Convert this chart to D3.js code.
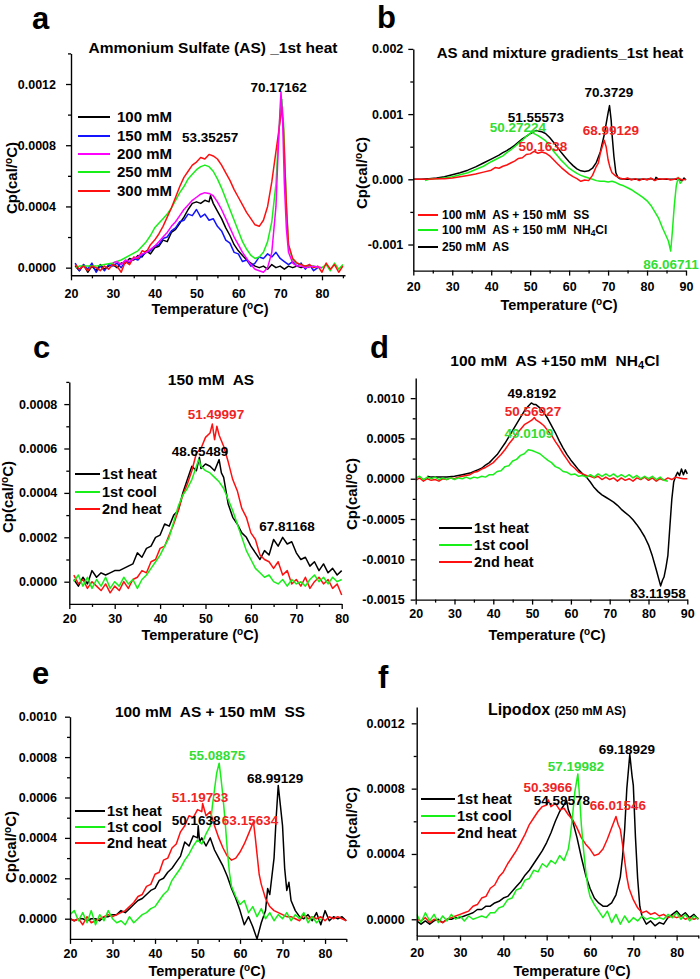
<!DOCTYPE html>
<html><head><meta charset="utf-8">
<script src="https://cdn.jsdelivr.net/npm/d3@7"></script>
<style>
body{margin:0;background:#fff}
svg{display:block}
text{font-family:"Liberation Sans",Arial,Helvetica,sans-serif;font-weight:bold;white-space:pre}
</style>
</head><body>
<svg id="chart" width="700" height="979"></svg>
<script>
// Cp values are given in units of 1e-4 cal/°C
const UNIT = 1e-4;

// ---------- Panel a : Ammonium Sulfate (AS) _1st heat ----------
const a_100mM = [[21,0.1],[22,-0.2],[23,0.2],[24,-0.3],[25,0.1],[26,-0.2],[27,0.2],[28,-0.1],[29,0.1],[30,0.2],[31,0.0],[32,0.3],[33,0.3],[34,0.6],[35,0.5],[36,0.8],[37,0.7],[38,1.1],[39,0.9],[40,1.3],[41,1.4],[42,1.8],[43,1.7],[44,2.3],[45,2.5],[46,2.9],[47,3.3],[48,3.8],[49,4.2],[50,4.3],[51,4.2],[52,4.4],[53,4.3],[53.35,4.7],[54,4.2],[55,3.7],[56,3.2],[57,2.6],[58,2.1],[59,1.5],[60,1.1],[61,0.8],[62,0.5],[63,0.3],[64,0.1],[65,0.0],[66,0.1],[67,-0.1],[68,0.2],[69,0.0],[70,0.1],[71,-0.1],[72,0.1],[73,0.0],[74,0.1],[75,0.0],[76,0.1],[77,0.0]];
const a_150mM = [[21,0.3],[22,-0.2],[23,0.2],[24,-0.1],[25,0.3],[26,-0.3],[27,0.1],[28,-0.2],[29,0.2],[30,0.1],[31,0.3],[32,0.0],[33,0.4],[34,0.3],[35,0.6],[36,0.5],[37,0.8],[38,1.0],[39,1.1],[40,1.4],[41,1.5],[42,1.9],[43,2.0],[44,2.4],[45,2.6],[46,3.0],[47,3.1],[48,3.5],[49,3.4],[50,3.8],[51,3.3],[52,3.5],[53,3.1],[54,3.2],[55,2.7],[56,2.4],[57,1.8],[58,1.6],[59,1.0],[60,0.9],[61,0.4],[62,0.5],[63,0.1],[64,0.3],[65,0.7],[66,0.6],[67,0.9],[68,0.7],[69,1.0],[70,0.6],[71,0.4],[72,0.2],[73,0.4],[74,0.1],[75,0.3],[76,-0.1],[77,0.2],[78,-0.2],[79,0.0]];
const a_200mM = [[30,0.3],[31,0.4],[32,0.2],[33,0.5],[34,0.4],[35,0.6],[36,0.7],[37,0.9],[38,1.0],[39,1.2],[40,1.4],[41,1.7],[42,2.0],[43,2.3],[44,2.7],[45,3.0],[46,3.4],[47,3.8],[48,4.1],[49,4.4],[50,4.6],[51,4.8],[52,4.9],[53,4.85],[54,4.7],[55,4.3],[56,3.8],[57,3.2],[58,2.6],[59,2.0],[60,1.5],[61,1.0],[62,0.6],[63,0.2],[64,-0.1],[65,-0.2],[66,-0.3],[67,0.0],[68,1.0],[69,4.0],[69.5,7.5],[70,10.5],[70.2,11.5],[70.6,9.5],[71,5.5],[71.5,2.5],[72,1.0],[73,0.3],[74,0.1],[75,0.1],[76,0.0],[78,0.1],[80,0.0]];
const a_250mM = [[21,0.0],[22,0.1],[24,0.1],[26,0.1],[28,0.2],[30,0.3],[32,0.5],[34,0.8],[36,1.1],[37,1.4],[38,1.7],[39,2.1],[40,2.6],[41,2.9],[42,3.2],[43,3.5],[44,3.9],[45,4.4],[46,4.9],[47,5.3],[48,5.8],[49,6.1],[50,6.4],[51,6.6],[52,6.7],[53,6.6],[54,6.3],[55,5.8],[56,5.2],[57,4.5],[58,3.8],[59,3.1],[60,2.4],[61,1.7],[62,1.2],[63,0.8],[64,0.6],[65,0.7],[66,1.0],[67,1.7],[68,3.0],[69,5.5],[69.5,8.0],[70,10.2],[70.4,11.0],[70.8,9.5],[71,8.0],[71.5,4.0],[72,1.5],[73,0.5],[74,0.3],[75,0.2],[76,0.1],[78,0.1],[80,0.0],[81,0.2],[82,-0.2],[83,0.3],[84,-0.1],[85,0.2]];
const a_300mM = [[21,0.2],[22,-0.1],[23,0.1],[24,-0.2],[25,0.1],[26,0.0],[27,-0.2],[28,0.1],[29,-0.1],[30,0.2],[31,0.1],[32,-0.3],[33,0.4],[34,0.2],[35,0.7],[36,0.6],[37,1.1],[38,1.0],[39,1.5],[40,1.8],[41,2.2],[42,2.7],[43,3.3],[44,3.9],[45,4.6],[46,5.3],[47,5.9],[48,6.3],[49,6.7],[50,6.9],[51,7.2],[52,7.1],[53,7.4],[54,7.3],[55,7.1],[56,6.7],[57,6.2],[58,5.7],[59,5.1],[60,4.6],[61,4.1],[62,3.6],[63,3.2],[64,2.8],[65,2.7],[66,3.1],[67,4.0],[68,5.6],[69,7.6],[69.5,8.6],[70,9.6],[70.4,10.5],[70.8,9.0],[71,7.5],[71.5,4.0],[72,1.5],[73,0.6],[74,0.3],[75,0.2],[76,0.1],[77,0.2],[78,0.0],[79,0.1],[80,-0.3],[81,0.3],[82,-0.1],[83,0.2],[84,-0.3],[85,0.1]];

// ---------- Panel b : AS and mixture gradients_1st heat ----------
const b_AS_SS = [[20,0.0],[22,0.0],[24,0.0],[26,0.1],[28,0.1],[30,0.2],[32,0.4],[34,0.6],[36,0.8],[38,1.1],[40,1.4],[41,1.8],[42,1.7],[43,2.0],[44,2.2],[45,2.5],[46,2.8],[47,3.2],[48,3.3],[49,3.8],[50,3.9],[51,4.3],[52,4.0],[53,4.2],[54,4.0],[55,3.6],[56,3.0],[57,2.4],[58,1.8],[59,1.3],[60,0.8],[61,0.4],[62,0.1],[63,-0.3],[64,-0.1],[65,-0.2],[66,0.6],[67,2.0],[67.5,2.5],[68,4.0],[68.99,6.0],[69.5,5.0],[70,3.0],[70.5,1.8],[71,1.0],[72,0.5],[73,0.2],[74,0.0],[75,0.2],[76,-0.1],[77,0.1],[78,-0.2],[79,0.1],[80,-0.1],[81,0.2],[82,-0.2],[83,0.1],[84,0.0],[85,0.1],[86,-0.1],[87,0.0],[88,0.2],[89,-0.1],[90,0.0]];
const b_AS_NH4Cl = [[23,-0.2],[24,0.0],[25,0.1],[26,0.1],[28,0.2],[30,0.4],[32,0.7],[34,1.0],[36,1.5],[38,2.0],[40,2.7],[41,3.0],[42,3.3],[43,3.6],[44,4.1],[45,4.5],[46,5.0],[47,5.5],[48,6.0],[49,6.6],[50,7.0],[50.27,7.4],[51,7.0],[52,6.7],[53,6.3],[54,5.9],[55,5.1],[56,4.3],[57,3.6],[58,2.9],[59,2.3],[60,1.7],[61,1.3],[62,0.9],[63,0.6],[64,0.4],[65,0.2],[66,0.0],[67,-0.2],[68,-0.3],[69,-0.3],[70,-0.4],[71,-0.3],[72,-0.5],[73,-0.8],[74,-1.0],[75,-1.3],[76,-1.6],[77,-2.0],[78,-2.4],[79,-2.8],[80,-3.3],[81,-4.0],[82,-5.0],[83,-6.0],[84,-7.5],[85,-8.8],[85.5,-9.5],[86.07,-11.0],[86.5,-8.0],[87,-4.0],[87.5,-1.0],[88,0.3],[88.5,-0.6],[89,-0.3]];
const b_AS250 = [[20,0.0],[22,0.0],[24,0.1],[26,0.2],[28,0.4],[30,0.7],[32,1.0],[34,1.4],[36,1.9],[38,2.5],[40,3.1],[41,3.4],[42,3.7],[43,4.1],[44,4.4],[45,4.8],[46,5.2],[47,5.7],[48,6.2],[49,6.6],[50,7.0],[51,7.3],[51.56,7.5],[52,7.4],[53,7.3],[54,7.0],[55,6.4],[56,5.7],[57,4.9],[58,4.1],[59,3.4],[60,2.7],[61,2.1],[62,1.6],[63,1.3],[64,1.2],[65,1.3],[66,1.7],[67,2.6],[68,4.2],[69,6.8],[69.5,8.5],[70,10.2],[70.37,11.3],[70.8,9.0],[71,7.0],[71.5,3.5],[72,1.0],[72.5,0.3],[73,0.1],[75,0.0],[78,0.0],[80,0.0],[81,0.1],[82,-0.1],[82.3,0.3],[83,0.0],[85,0.0],[88,0.0],[89,-0.2],[89.5,0.2],[90,-0.1]];

// ---------- Panel c : 150 mM AS ----------
const c_heat1 = [[21,0.1],[22,-0.2],[23,0.2],[24,-0.1],[25,0.5],[26,0.2],[27,0.4],[28,0.3],[29,0.4],[30,0.5],[31,0.5],[32,0.6],[33,0.7],[34,0.8],[35,1.3],[36,1.1],[37,1.5],[38,1.6],[39,2.0],[40,2.1],[41,2.6],[42,2.5],[43,3.0],[44,3.2],[45,4.0],[46,4.6],[47,5.2],[48,5.0],[48.65,5.6],[49,5.1],[50,5.3],[51,5.2],[52,5.0],[53,5.5],[53.5,4.9],[54,4.7],[55,3.5],[56,2.9],[57,2.6],[58,2.2],[59,2.0],[60,1.6],[61,1.3],[62,1.0],[63,1.4],[64,1.2],[65,1.9],[66,1.6],[67,2.0],[68,1.7],[69,1.8],[70,1.3],[71,1.0],[72,1.1],[73,0.7],[74,0.9],[75,0.5],[76,0.8],[77,0.4],[78,0.6],[79,0.3],[80,0.5]];
const c_cool1 = [[21,0.0],[22,0.3],[23,-0.2],[24,0.2],[25,-0.3],[26,0.1],[27,-0.2],[28,0.2],[29,-0.3],[30,0.0],[31,-0.2],[32,0.2],[33,-0.1],[34,0.1],[35,-0.3],[36,0.1],[37,0.3],[38,0.6],[39,0.9],[40,1.2],[41,1.6],[42,2.0],[43,2.7],[44,3.4],[45,3.9],[46,4.2],[47,4.6],[48,5.2],[48.5,5.5],[49,5.2],[50,5.0],[51,4.9],[52,4.7],[53,4.5],[54,4.2],[55,3.7],[56,3.2],[57,2.6],[58,2.0],[59,1.4],[60,1.0],[61,0.6],[62,0.4],[63,0.2],[64,0.3],[65,0.0],[66,-0.1],[67,0.1],[68,-0.2],[69,0.1],[70,-0.1],[71,0.0],[72,-0.2],[73,0.1],[74,0.3],[75,0.0],[76,0.2],[77,-0.1],[78,0.2],[79,0.0],[80,0.1]];
const c_heat2 = [[21,0.3],[22,-0.1],[23,0.1],[24,-0.3],[25,0.0],[26,-0.2],[27,-0.4],[28,-0.1],[29,-0.5],[30,-0.2],[31,-0.4],[32,0.0],[33,-0.3],[34,0.1],[35,0.2],[36,0.5],[37,0.4],[38,0.9],[39,1.0],[40,1.5],[41,1.6],[42,2.1],[43,2.6],[44,3.2],[45,3.9],[46,4.4],[47,5.0],[48,5.8],[49,6.0],[50,6.5],[51,6.7],[51.5,7.1],[52,6.4],[52.5,7.0],[53,6.6],[54,6.1],[55,5.4],[56,4.6],[57,4.1],[58,3.3],[59,2.9],[60,2.2],[61,1.9],[62,1.2],[63,1.0],[64,0.9],[65,0.6],[66,0.9],[67,0.3],[68,0.5],[69,-0.1],[70,0.1],[71,-0.2],[72,0.2],[73,-0.3],[74,0.0],[75,0.2],[76,-0.1],[77,0.1],[78,-0.3],[79,-0.1],[80,-0.6]];

// ---------- Panel d : 100 mM AS + 150 mM NH4Cl ----------
const d_heat1 = [[23,0.3],[24,0.2],[25,0.2],[26,0.2],[28,0.2],[30,0.3],[32,0.5],[34,0.7],[35,0.9],[36,1.1],[37,1.3],[38,1.7],[39,2.0],[40,2.5],[41,3.0],[42,3.7],[43,4.4],[44,5.2],[45,6.0],[46,6.8],[47,7.6],[48,8.4],[49,9.0],[49.8,9.4],[50.5,9.2],[51,9.2],[52,8.8],[53,8.2],[54,7.5],[55,6.6],[56,5.7],[57,4.7],[58,3.8],[59,3.0],[60,2.3],[61,1.7],[62,1.1],[63,0.6],[64,0.2],[65,-0.4],[66,-1.1],[67,-1.6],[68,-2.0],[69,-2.3],[70,-2.6],[71,-2.9],[72,-3.3],[73,-3.8],[74,-4.2],[75,-4.6],[76,-5.1],[77,-5.7],[78,-6.4],[79,-7.2],[80,-8.2],[81,-9.6],[82,-11.3],[83.12,-13.3],[83.6,-12.6],[84,-12.2],[84.5,-11.0],[85,-9.5],[85.5,-6.0],[86,-2.6],[86.5,-0.4],[87,0.3],[87.5,0.8],[88,0.4],[88.5,1.2],[89,0.5],[89.5,1.1],[90,0.6]];
const d_cool1 = [[20,0.1],[21,0.3],[22,-0.1],[23,0.2],[24,0.0],[25,0.2],[26,-0.1],[27,0.1],[28,-0.1],[29,0.1],[30,-0.1],[31,0.1],[32,0.0],[33,0.2],[34,0.0],[35,0.2],[36,0.1],[37,0.3],[38,0.2],[39,0.5],[40,0.5],[41,0.9],[42,1.0],[43,1.5],[44,1.6],[45,2.2],[46,2.4],[47,2.9],[48,3.1],[49,3.6],[50,3.5],[51,3.3],[52,3.1],[53,2.7],[54,2.3],[55,2.0],[56,1.5],[57,1.3],[58,0.9],[59,0.8],[60,0.5],[61,0.6],[62,0.3],[63,0.4],[64,0.2],[65,0.5],[66,0.2],[67,0.6],[68,0.3],[69,0.6],[70,0.3],[71,0.6],[72,0.2],[73,0.5],[74,0.2],[75,0.5],[76,0.1],[77,0.4],[78,0.0],[79,0.3],[80,0.0],[81,0.3],[82,-0.1],[83,0.2],[84,-0.2],[85,-0.3]];
const d_heat2 = [[20,-0.2],[21,0.1],[22,-0.3],[23,0.0],[24,-0.2],[25,-0.1],[26,-0.3],[27,0.0],[28,-0.1],[29,0.1],[30,0.0],[31,0.2],[32,0.3],[33,0.4],[34,0.5],[35,0.8],[36,0.9],[37,1.2],[38,1.4],[39,1.7],[40,2.0],[41,2.5],[42,3.0],[43,3.6],[44,4.3],[45,4.9],[46,5.6],[47,6.1],[48,6.7],[49,7.0],[50,7.3],[50.57,7.6],[51,7.3],[52,7.0],[53,6.6],[54,6.0],[55,5.4],[56,4.6],[57,3.9],[58,3.1],[59,2.4],[60,1.7],[61,1.3],[62,0.8],[63,0.6],[64,0.4],[65,0.3],[66,0.1],[67,0.3],[68,-0.1],[69,0.2],[70,-0.1],[71,0.1],[72,-0.3],[73,0.1],[74,-0.2],[75,0.0],[76,-0.3],[77,0.1],[78,-0.1],[79,0.2],[80,-0.2],[81,0.1],[82,-0.3],[83,0.0],[84,-0.2],[85,0.1],[86,-0.1],[87,0.2],[88,0.1],[89,0.0],[90,0.0]];

// ---------- Panel e : 100 mM AS + 150 mM SS ----------
const e_heat1 = [[20,0.0],[21,-0.1],[22,0.0],[23,0.0],[24,-0.1],[25,0.0],[26,0.0],[27,-0.1],[28,0.1],[29,0.1],[30,0.2],[31,0.2],[32,0.4],[33,0.3],[34,0.5],[35,0.7],[36,0.9],[37,1.0],[38,1.2],[39,1.4],[40,1.5],[41,1.9],[42,2.0],[43,2.3],[44,2.5],[45,2.8],[46,3.1],[47,3.8],[48,3.6],[49,4.1],[50,4.0],[50.16,4.6],[50.5,3.8],[51,4.0],[52,3.6],[53,4.0],[53.5,3.7],[54,3.4],[55,3.0],[56,2.6],[57,2.1],[58,1.5],[59,1.0],[60,0.4],[61,-0.3],[62,0.1],[63,-0.4],[64,-1.0],[65,-0.2],[66,0.4],[66.5,1.5],[67,1.2],[68,3.0],[68.5,5.0],[68.99,6.6],[69.5,5.6],[70,4.6],[70.5,2.5],[71,1.4],[71.5,1.8],[72,0.9],[73,0.4],[74,0.1],[75,0.0],[76,0.2],[77,-0.1],[78,0.3],[79,-0.3],[80,0.4],[81,-0.1],[82,0.1],[83,0.0],[84,0.1],[85,-0.1]];
const e_cool1 = [[20,0.2],[21,0.4],[22,-0.1],[23,0.3],[24,-0.2],[25,0.4],[26,-0.3],[27,0.2],[28,-0.1],[29,0.4],[30,0.0],[31,-0.2],[32,-0.1],[33,-0.3],[34,0.1],[35,-0.2],[36,0.0],[37,0.2],[38,0.3],[39,0.5],[40,0.6],[41,0.9],[42,1.2],[43,1.4],[44,1.9],[45,2.2],[46,2.5],[47,2.9],[48,3.2],[49,3.6],[50,3.9],[51,3.7],[52,4.2],[53,4.6],[53.5,5.6],[54,6.4],[54.5,7.2],[55.09,7.7],[55.5,7.0],[56,6.0],[56.5,4.8],[57,3.4],[57.5,2.3],[58,1.6],[59,1.1],[60,0.7],[61,0.9],[62,0.3],[63,0.6],[64,0.1],[65,0.5],[66,0.0],[67,0.3],[68,-0.1],[69,0.2],[70,0.0],[71,0.3],[72,-0.1],[73,0.2],[74,0.0],[75,0.3],[76,-0.2],[77,0.1],[78,-0.2],[79,0.0]];
const e_heat2 = [[20,0.0],[21,-0.1],[22,0.0],[23,-0.3],[24,0.1],[25,-0.2],[26,-0.1],[27,0.0],[28,0.1],[29,0.2],[30,0.1],[31,0.2],[32,0.3],[33,0.4],[34,0.6],[35,0.8],[36,1.1],[37,1.2],[38,1.6],[39,1.7],[40,2.2],[41,2.3],[42,2.9],[43,3.0],[44,3.5],[45,3.7],[46,4.3],[47,4.6],[48,5.1],[49,5.0],[50,5.4],[51,5.3],[51.2,5.7],[52,5.1],[53,5.3],[54,4.6],[55,4.0],[56,3.5],[57,3.1],[58,2.9],[59,3.0],[60,3.3],[61,3.7],[62,4.2],[63.16,4.8],[63.6,4.0],[64,3.2],[64.5,2.2],[65,1.7],[66,1.0],[67,0.6],[68,0.4],[69,0.3],[70,0.2],[71,0.1],[72,0.1],[73,0.0],[74,-0.1],[75,0.2],[76,0.0],[77,0.1],[78,0.0],[79,0.1],[80,-0.1],[81,0.1],[82,0.0],[83,0.1],[84,0.0],[85,-0.1]];

// ---------- Panel f : Lipodox (250 mM AS) ----------
const f_heat1 = [[20,-0.1],[21,-0.3],[22,-0.1],[23,-0.3],[24,-0.1],[25,0.0],[26,-0.2],[27,0.0],[28,0.0],[29,0.1],[30,0.1],[31,0.2],[32,0.3],[33,0.4],[34,0.6],[35,0.6],[36,0.8],[37,0.8],[38,1.0],[39,1.1],[40,1.3],[41,1.4],[42,1.7],[43,2.0],[44,2.3],[45,2.7],[46,3.0],[47,3.4],[48,3.8],[49,4.2],[50,4.7],[51,5.3],[52,6.0],[53,6.6],[54,7.0],[54.59,7.3],[55,6.7],[56,6.0],[57,5.0],[58,3.8],[59,2.7],[60,1.9],[61,1.3],[62,1.0],[63,0.8],[64,0.8],[65,1.0],[66,1.5],[67,2.6],[67.5,3.8],[68,5.5],[68.5,8.0],[69.19,10.1],[69.7,8.8],[70,8.2],[70.5,5.0],[71,2.5],[71.5,0.8],[72,0.2],[73,-0.3],[74,-0.1],[75,-0.4],[76,-0.2],[77,-0.3],[78,0.1],[79,0.3],[80,0.5],[81,0.2],[82,0.4],[83,0.1],[84,0.3],[85,0.0]];
const f_cool1 = [[20,0.3],[21,-0.2],[22,0.4],[23,-0.1],[24,0.3],[25,-0.2],[26,0.2],[27,-0.1],[28,0.3],[29,0.0],[30,0.2],[31,-0.1],[32,0.2],[33,0.0],[34,0.1],[35,0.2],[36,0.1],[37,0.4],[38,0.4],[39,0.7],[40,0.8],[41,1.2],[42,1.3],[43,1.8],[44,1.9],[45,2.4],[46,2.5],[47,3.0],[48,2.9],[49,3.4],[50,3.2],[51,3.6],[52,3.4],[53,3.9],[54,3.6],[55,4.3],[55.5,5.2],[56,6.4],[56.5,7.8],[57.2,8.9],[57.6,7.5],[58,5.8],[58.5,4.3],[59,3.0],[59.5,2.0],[60,1.4],[61,0.9],[62,0.5],[63,0.1],[64,0.5],[65,-0.2],[66,0.3],[67,-0.3],[68,0.2],[69,-0.2],[70,0.1],[71,-0.1],[72,0.2],[73,0.0],[74,0.1],[75,0.0],[76,0.1],[77,0.0],[78,0.3],[79,0.1],[80,0.4],[81,0.0],[82,0.3],[83,-0.1],[84,0.2],[85,0.0]];
const f_heat2 = [[20,0.0],[21,-0.1],[22,0.1],[23,-0.2],[24,0.0],[25,-0.1],[26,-0.2],[27,0.0],[28,0.1],[29,0.2],[30,0.3],[31,0.4],[32,0.5],[33,0.8],[34,0.9],[35,1.3],[36,1.4],[37,1.9],[38,2.1],[39,2.6],[40,2.9],[41,3.4],[42,3.8],[43,4.2],[44,4.7],[45,5.2],[46,5.8],[47,6.2],[48,6.6],[49,6.9],[50,7.0],[50.4,7.3],[51,6.9],[52,7.1],[53,6.7],[54,6.8],[55,6.4],[56,6.1],[57,5.6],[58,5.0],[59,4.6],[60,4.3],[61,3.9],[62,4.0],[63,4.3],[64,4.9],[65,5.6],[66,6.3],[66.5,5.8],[67,5.5],[67.5,4.6],[68,3.6],[68.5,2.6],[69,1.9],[70,1.2],[71,0.7],[72,0.4],[73,0.5],[74,0.3],[75,0.4],[76,0.2],[77,0.3],[78,0.1],[79,0.2],[80,0.1],[81,0.2],[82,0.0],[83,0.1],[84,0.0],[85,0.1]];

// ---------- Tick values ----------
const xTicks_a = [20,30,40,50,60,70,80];
const xTicks_b = [20,30,40,50,60,70,80,90];
const xTicks_c = [20,30,40,50,60,70,80];
const xTicks_d = [20,30,40,50,60,70,80,90];
const xTicks_e = [20,30,40,50,60,70,80];
const xTicks_f = [20,30,40,50,60,70,80];
const yTicks_a = [0,0.0004,0.0008,0.0012];
const yTicks_b = [-0.001,0,0.001,0.002];
const yTicks_c = [0,0.0002,0.0004,0.0006,0.0008];
const yTicks_d = [-0.0015,-0.0010,-0.0005,0,0.0005,0.0010];
const yTicks_e = [0,0.0002,0.0004,0.0006,0.0008,0.0010];
const yTicks_f = [0,0.0004,0.0008,0.0012];

// ---------- Peak labels (text, temperature, Cp position in 1e-4) ----------
const ann_a = [["70.17162",69.64,11.8,"k"],["53.35257",53.25,8.5,"k"]];
const ann_b = [["70.3729",70.23,13.39,"k"],["51.55573",51.49,9.48,"k"],["50.27224",46.87,7.94,"g"],["68.99129",70.74,7.56,"r"],["50.1638",53.29,5.11,"r"],["86.06711",86.15,-12.99,"g"]];
const ann_c = [["51.49997",52.31,7.55,"r"],["48.65489",48.79,5.89,"k"],["67.81168",67.95,2.51,"k"]];
const ann_d = [["49.8192",49.97,10.63,"k"],["50.56927",50.23,8.40,"r"],["49.0109",49.20,5.67,"g"],["83.11958",82.45,-14.18,"k"]];
const ann_e = [["55.08875",54.59,8.10,"g"],["68.99129",68.24,6.97,"k"],["51.19733",50.59,6.02,"r"],["50.1638",49.65,4.89,"k"],["63.15634",62.35,4.89,"r"]];
const ann_f = [["69.18929",68.53,10.43,"k"],["57.19982",56.76,9.39,"g"],["50.3966",50.30,8.10,"r"],["54.58578",53.53,7.31,"k"],["66.01546",66.46,7.00,"r"]];

// ---------- Legend names ----------
const leg_a = ["100 mM","150 mM","200 mM","250 mM","300 mM"];
const leg_b = ["100 mM  AS + 150 mM  SS",["100 mM  AS + 150 mM  NH","4","Cl"],"250 mM  AS"];
const leg_run = ["1st heat","1st cool","2nd heat"];

// ---------- Styling ----------
const LC = {k:"#000000", b:"#1414ff", m:"#ff00ff", g:"#18ee18", r:"#ff1010"};
const TC = {k:"#000000", g:"#33dd33", r:"#f02424"};

const panels = [
 {letter:"a", L:[32,29], x0:71, x1:345, y0:275.3, y1:53.4, xd:[20,85.5], yd:[-0.00005,0.0014],
  xT:xTicks_a, xM:d3.range(25,86,10), yT:yTicks_a, yM:[0.0002,0.0006,0.0010,0.0014], yDec:4, ypad:10, xpad:14,
  title:[["Ammonium Sulfate (AS) _1st heat",15.5]], tX:213, tY:53,
  series:[[a_100mM,"k"],[a_150mM,"b"],[a_250mM,"g"],[a_300mM,"r"],[a_200mM,"m"]],
  legend:{x1:78,x2:110,tx:117,ys:[117,136,154,172,191],names:leg_a,cols:["k","b","m","g","r"],fs:15},
  ann:ann_a, ylab:[17,178], xlab:[210,314]},
 {letter:"b", L:[377,28], x0:413.3, x1:686, y0:270.6, y1:48.9, xd:[20,90], yd:[-0.0014,0.002],
  xT:xTicks_b, xM:d3.range(25,90,10), yT:yTicks_b, yM:[-0.0005,0.0005,0.0015], yDec:3, ypad:5, xpad:12,
  title:[["AS and mixture gradients_1st heat",15]], tX:560, tY:58,
  series:[[b_AS250,"k"],[b_AS_NH4Cl,"g"],[b_AS_SS,"r"]],
  legend:{x1:418,x2:438,tx:442,ys:[215,230,247],names:leg_b,cols:["r","g","k"],fs:12},
  ann:ann_b, ylab:[367,173], xlab:[559,310]},
 {letter:"c", L:[33,358], x0:69.3, x1:341.7, y0:603.9, y1:381.9, xd:[20,80], yd:[-0.0001,0.0009],
  xT:xTicks_c, xM:d3.range(25,80,10), yT:yTicks_c, yM:[0.0001,0.0003,0.0005,0.0007,0.0009], yDec:4, ypad:7, xpad:10,
  title:[["150 mM  AS",15.5]], tX:211, tY:385,
  series:[[c_heat1,"k"],[c_heat2,"r"],[c_cool1,"g"]],
  legend:{x1:75,x2:100,tx:102,ys:[474,492,509],names:leg_run,cols:["k","g","r"],fs:14.5},
  ann:ann_c, ylab:[13,497], xlab:[200,640]},
 {letter:"d", L:[370,358], x0:415.7, x1:687.3, y0:599.6, y1:378, xd:[20,90], yd:[-0.0015,0.00125],
  xT:xTicks_d, xM:d3.range(25,90,10), yT:yTicks_d, yM:[-0.00125,-0.00075,-0.00025,0.00025,0.00075], yDec:4, ypad:6, xpad:10,
  title:[["100 mM  AS +150 mM  NH",15.5],["4",11,"sub"],["Cl",15.5]], tX:555, tY:366,
  series:[[d_heat1,"k"],[d_heat2,"r"],[d_cool1,"g"]],
  legend:{x1:439,x2:472,tx:474,ys:[528,545,562],names:leg_run,cols:["k","g","r"],fs:14.5},
  ann:ann_d, ylab:[357,494], xlab:[547,640]},
 {letter:"e", L:[32,684], x0:70, x1:346.3, y0:938.9, y1:716.7, xd:[20,85], yd:[-0.0001,0.001],
  xT:xTicks_e, xM:d3.range(25,86,10), yT:yTicks_e, yM:[0.0001,0.0003,0.0005,0.0007,0.0009], yDec:4, ypad:8, xpad:10,
  title:[["100 mM  AS + 150 mM  SS",15.5]], tX:210, tY:717,
  series:[[e_heat1,"k"],[e_heat2,"r"],[e_cool1,"g"]],
  legend:{x1:75,x2:105,tx:107,ys:[811,827,843],names:leg_run,cols:["k","g","r"],fs:14.5},
  ann:ann_e, ylab:[16,847], xlab:[207,976]},
 {letter:"f", L:[378,688], x0:416.7, x1:698.3, y0:935.6, y1:707, xd:[20,85], yd:[-0.0001,0.0013],
  xT:xTicks_f, xM:d3.range(25,86,10), yT:yTicks_f, yM:[0.0002,0.0006,0.0010], yDec:4, ypad:7, xpad:13,
  title:[["Lipodox ",16],["(250 mM AS)",12]], tX:557, tY:715,
  series:[[f_heat1,"k"],[f_heat2,"r"],[f_cool1,"g"]],
  legend:{x1:421,x2:455,tx:457,ys:[799,816,833],names:leg_run,cols:["k","g","r"],fs:14.5},
  ann:ann_f, ylab:[357,823], xlab:[572,976]}
];

const svg = d3.select("#chart");
const defs = svg.append("defs");

function addTspans(t, parts){
  parts.forEach(p=>{
    const s = t.append("tspan").text(p[0]).attr("font-size",p[1]);
    if(p[2]==="sub") s.attr("baseline-shift","-25%");
    if(p[2]==="sup") s.attr("baseline-shift","super");
  });
}

panels.forEach((p,i)=>{
  const g = svg.append("g");
  const x = d3.scaleLinear().domain(p.xd).range([p.x0,p.x1]);
  const y = d3.scaleLinear().domain(p.yd).range([p.y0,p.y1]);

  defs.append("clipPath").attr("id","clip"+i).append("rect")
    .attr("x",p.x0).attr("y",p.y1-2).attr("width",p.x1-p.x0+2).attr("height",p.y0-p.y1+2);

  // panel letter
  g.append("text").attr("x",p.L[0]).attr("y",p.L[1]).attr("font-size",31).text(p.letter);

  // title
  const tt = g.append("text").attr("x",p.tX).attr("y",p.tY).attr("text-anchor","middle");
  addTspans(tt,p.title);

  // series
  const line = d3.line().x(d=>x(d[0])).y(d=>y(d[1]*UNIT));
  const lg = g.append("g").attr("clip-path",`url(#clip${i})`);
  p.series.forEach(([data,c])=>{
    lg.append("path").datum(data).attr("d",line).attr("fill","none")
      .attr("stroke",LC[c]).attr("stroke-width",1.5).attr("stroke-linejoin","round");
  });

  // axes
  const fmt = v => d3.format("."+p.yDec+"f")(v).replace("\u2212","-");
  const styleAxis = sel => {
    sel.select(".domain").attr("stroke","#000").attr("stroke-width",1.4);
    sel.selectAll(".tick line").attr("stroke","#000").attr("stroke-width",1.3);
    sel.selectAll("text").attr("font-size",12.5).attr("fill","#000")
      .attr("font-family",'"Liberation Sans",Arial,sans-serif').attr("font-weight","bold");
  };
  const xa = g.append("g").attr("transform",`translate(0,${p.y0})`)
    .call(d3.axisBottom(x).tickValues(p.xT).tickSize(5).tickSizeOuter(0).tickPadding(p.xpad-5).tickFormat(d3.format("d")));
  styleAxis(xa);
  const xm = g.append("g").attr("transform",`translate(0,${p.y0})`)
    .call(d3.axisBottom(x).tickValues(p.xM).tickSize(3).tickFormat(""));
  xm.select(".domain").remove(); styleAxis(xm);

  const ya = g.append("g").attr("transform",`translate(${p.x0},0)`)
    .call(d3.axisLeft(y).tickValues(p.yT).tickSize(5).tickSizeOuter(0).tickPadding(p.ypad).tickFormat(fmt));
  styleAxis(ya);
  const ym = g.append("g").attr("transform",`translate(${p.x0},0)`)
    .call(d3.axisLeft(y).tickValues(p.yM).tickSize(3).tickFormat(""));
  ym.select(".domain").remove(); styleAxis(ym);

  // axis titles
  const xl = g.append("text").attr("x",p.xlab[0]).attr("y",p.xlab[1]).attr("text-anchor","middle").attr("font-size",14.5);
  addTspans(xl,[["Temperature (",14.5],["o",10,"sup"],["C)",14.5]]);
  const yl = g.append("text").attr("transform",`translate(${p.ylab[0]},${p.ylab[1]}) rotate(-90)`)
    .attr("text-anchor","middle").attr("font-size",15);
  addTspans(yl,[["Cp(cal/",15],["o",10,"sup"],["C)",15]]);

  // legend
  const L = p.legend;
  L.names.forEach((nm,k)=>{
    const yy = L.ys[k];
    g.append("line").attr("x1",L.x1).attr("x2",L.x2).attr("y1",yy).attr("y2",yy)
      .attr("stroke",LC[L.cols[k]]).attr("stroke-width",2);
    const t = g.append("text").attr("x",L.tx).attr("y",yy).attr("dy","0.36em").attr("font-size",L.fs);
    if(Array.isArray(nm)) addTspans(t,[[nm[0],L.fs],[nm[1],L.fs*0.7,"sub"],[nm[2],L.fs]]);
    else t.text(nm);
  });

  // peak labels
  p.ann.forEach(([txt,T,v,c])=>{
    g.append("text").attr("x",x(T)).attr("y",y(v*UNIT)).attr("dy","0.36em")
      .attr("text-anchor","middle").attr("font-size",13.5).attr("fill",TC[c]).text(txt);
  });
});
</script>
</body></html>
